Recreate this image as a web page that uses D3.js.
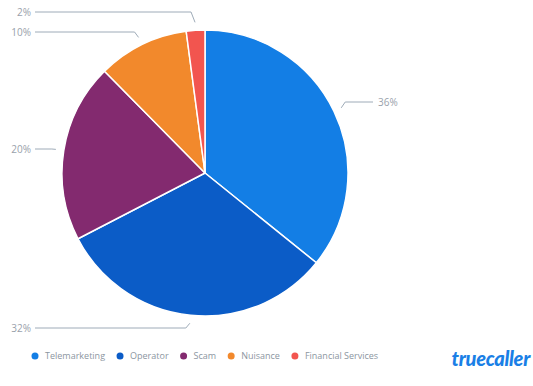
<!DOCTYPE html>
<html><head><meta charset="utf-8">
<script src="https://cdn.jsdelivr.net/npm/d3@7/dist/d3.min.js"></script>
<style>
html,body{margin:0;padding:0;background:#fff;}
svg{display:block;font-family:"Open Sans",sans-serif;}
</style></head>
<body>
<svg id="chart" width="533" height="386"></svg>
<script>
const categories = ["Telemarketing", "Operator", "Scam", "Nuisance", "Financial Services"];
const values = [35.8, 31.6, 20.2, 10.3, 2.1];
const labels = ["36%", "32%", "20%", "10%", "2%"];
const colors = ["#137ee5", "#0b5cc7", "#832a6f", "#f2892c", "#f2554f"];

// layout (label placement, not data)
const cx = 205, cy = 173, r = 143;
const labelY = [102, 328, 149, 32, 12];
const leftTextX = 31, rightTextX = 378;

const svg = d3.select("#chart");
const pie = d3.pie().sort(null).value(d => d)(values);
const arc = d3.arc().innerRadius(0).outerRadius(r);

const g = svg.append("g").attr("transform", `translate(${cx},${cy})`);
g.selectAll("path").data(pie).join("path")
  .attr("d", arc)
  .attr("fill", (d, i) => colors[i])
  .attr("stroke", "#fff")
  .attr("stroke-width", 1.5)
  .attr("stroke-linejoin", "round");

// labels + connectors
pie.forEach((d, i) => {
  const mid = (d.startAngle + d.endAngle) / 2;
  const er = r + 8;
  const ex = cx + er * Math.sin(mid), ey = cy - er * Math.cos(mid);
  const right = Math.sin(mid) > 0;
  const ly = labelY[i];
  let path;
  if (right) {
    const startX = rightTextX - 5;
    const crookX = ex + 4;
    path = `M${startX},${ly}L${crookX},${ly}L${ex},${ey}`;
    svg.append("text").attr("x", rightTextX).attr("y", ly).attr("dy", "0.35em")
      .attr("text-anchor", "start").attr("fill", "#99a1ab").attr("font-size", 10).text(labels[i]);
  } else {
    const startX = leftTextX + 4;
    const crookX = ex - 4;
    path = `M${startX},${ly}L${crookX},${ly}L${ex},${ey}`;
    svg.append("text").attr("x", leftTextX).attr("y", ly).attr("dy", "0.35em")
      .attr("text-anchor", "end").attr("fill", "#99a1ab").attr("font-size", 10).text(labels[i]);
  }
  svg.append("path").attr("d", path).attr("fill", "none")
    .attr("stroke", "#9eabb8").attr("stroke-width", 1);
});

// legend
const legend = svg.append("g");
let lx = 35;
const legY = 356;
categories.forEach((c, i) => {
  legend.append("circle").attr("cx", lx).attr("cy", legY).attr("r", 3.5).attr("fill", colors[i]);
  const t = legend.append("text").attr("x", lx + 10).attr("y", legY).attr("dy", "0.35em")
    .attr("fill", "#8c96a1").attr("font-size", 9).text(c);
  lx += 10 + t.node().getComputedTextLength() + 15;
});

// logo
svg.append("text").attr("x", 530).attr("y", 366).attr("text-anchor", "end")
  .attr("fill", "#1a7fe6").attr("font-size", 20).attr("font-weight", 900)
  .attr("font-style", "italic").attr("letter-spacing", -0.3)
  .attr("font-family", "Lato, 'Open Sans', sans-serif").text("truecaller");
</script>
</body></html>
